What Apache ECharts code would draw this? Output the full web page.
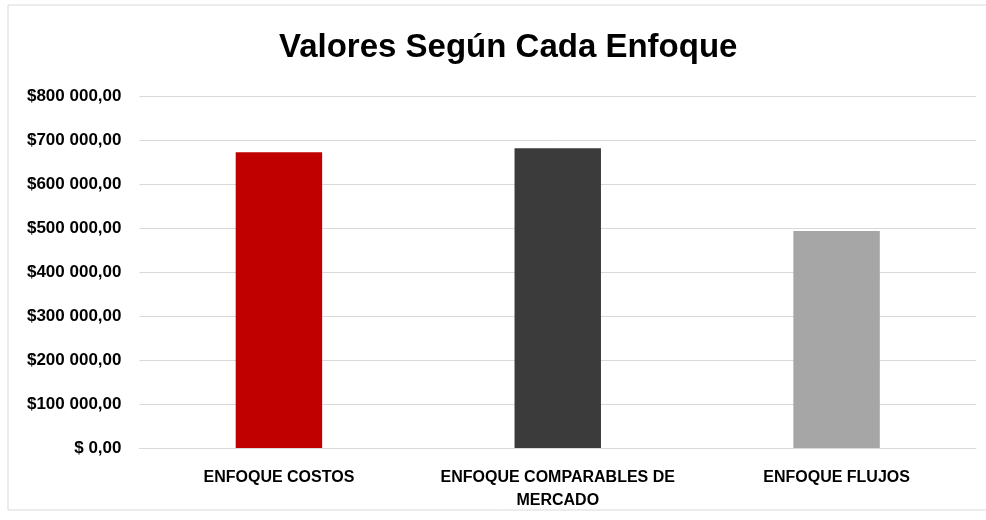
<!DOCTYPE html>
<html>
<head>
<meta charset="utf-8">
<script src="https://cdn.jsdelivr.net/npm/echarts@6/dist/echarts.min.js"></script>
<style>
  html, body { margin: 0; padding: 0; background: #fff; }
  #chart { width: 986px; height: 520px; }
</style>
</head>
<body>
<div id="chart"></div>
<script>
// Valuation per approach
const categories = ['ENFOQUE COSTOS', 'ENFOQUE COMPARABLES DE\nMERCADO', 'ENFOQUE FLUJOS'];
const values = [672000, 681000, 493000];
const barColors = ['#c00000', '#3b3b3b', '#a6a6a6'];
const yTicks = [0, 100000, 200000, 300000, 400000, 500000, 600000, 700000, 800000];

const FONT = '"Liberation Sans", Arial, sans-serif';

function fmtMoney(v) {
  if (v === 0) return '$ 0,00';
  const s = String(Math.round(v)).replace(/\B(?=(\d{3})+(?!\d))/g, ' ');
  return '$' + s + ',00';
}

const chart = echarts.init(document.getElementById('chart'));
chart.setOption({
  animation: false,
  backgroundColor: '#fff',
  title: {
    text: 'Valores Según Cada Enfoque',
    left: 274,
    top: 26,
    textStyle: { fontFamily: FONT, fontSize: 33, fontWeight: 'bold', color: '#000' }
  },
  graphic: [{
    type: 'rect',
    shape: { x: 8, y: 5, width: 990, height: 505 },
    style: { fill: 'none', stroke: '#d9d9d9', lineWidth: 1 },
    silent: true
  }],
  grid: { left: 139.5, right: 10, top: 96, bottom: 72, containLabel: false },
  xAxis: {
    type: 'category',
    data: categories,
    axisLine: { show: true, lineStyle: { color: '#d9d9d9' } },
    axisTick: { show: false },
    axisLabel: {
      interval: 0,
      margin: 18,
      fontFamily: FONT, fontSize: 16, fontWeight: 'bold', color: '#000',
      lineHeight: 23
    }
  },
  yAxis: {
    type: 'value',
    min: yTicks[0], max: yTicks[yTicks.length - 1], interval: yTicks[1] - yTicks[0],
    axisLine: { show: false },
    axisTick: { show: false },
    splitLine: { lineStyle: { color: '#d9d9d9', width: 1 } },
    axisLabel: {
      margin: 18,
      fontFamily: FONT, fontSize: 17, fontWeight: 'bold', color: '#000',
      formatter: fmtMoney
    }
  },
  series: [{
    type: 'bar',
    barWidth: '31%',
    data: values.map((v, i) => ({ value: v, itemStyle: { color: barColors[i] } }))
  }]
});
</script>
</body>
</html>
